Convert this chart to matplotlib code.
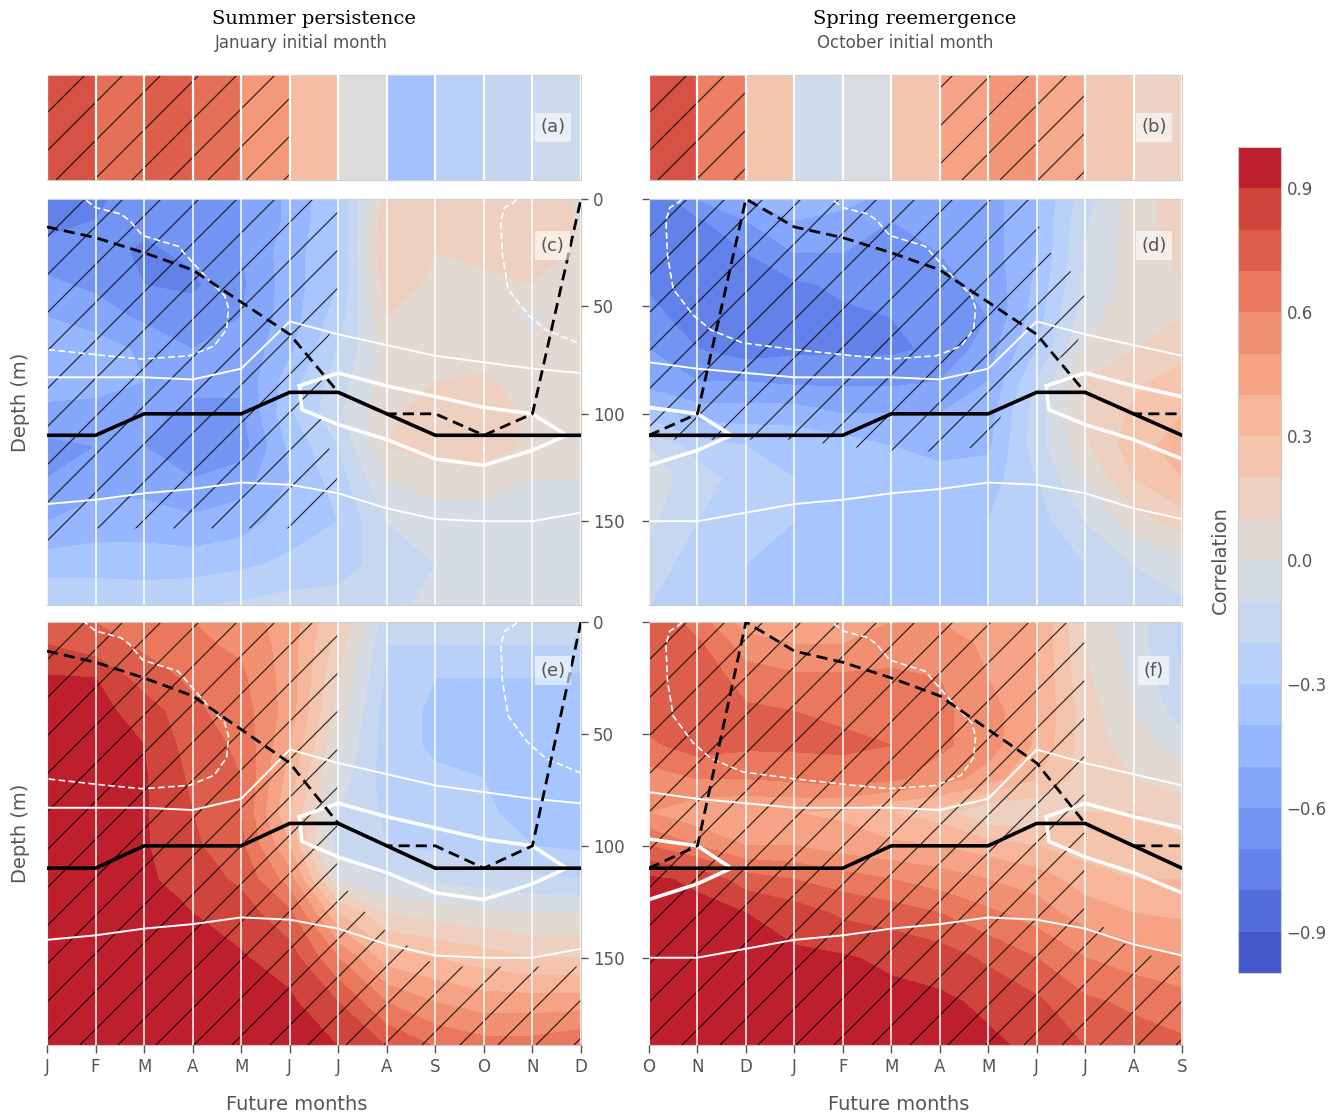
import numpy as np
import matplotlib
matplotlib.use('Agg')
import matplotlib.pyplot as plt
from matplotlib.collections import LineCollection
from matplotlib.transforms import IdentityTransform
from matplotlib.path import Path

plt.rcParams['font.family'] = ['DejaVu Sans']

# ---------------- data ----------------
depths = [0, 10, 25, 40, 55, 70, 85, 100, 115, 130, 150, 170, 190]
months_jan = list('JFMAMJJASOND')
months_oct = list('ONDJFMAMJJAS')

# top strips, 11 cells each
strip_a = [0.8, 0.68, 0.75, 0.68, 0.5, 0.3, 0.0, -0.38, -0.25, -0.17, -0.12]
strip_b = [0.8, 0.62, 0.25, -0.1, -0.03, 0.25, 0.45, 0.52, 0.42, 0.22, 0.13]
strip_a_sig = [1, 1, 1, 1, 1, 0, 0, 0, 0, 0, 0]
strip_b_sig = [1, 1, 0, 0, 0, 0, 1, 1, 1, 0, 0]

# correlation, one list per month (values over depths)
corr_c = [
    [-0.78, -0.75, -0.65, -0.58, -0.5, -0.42, -0.42, -0.55, -0.62, -0.6, -0.5, -0.35, -0.2],
    [-0.72, -0.7, -0.65, -0.62, -0.55, -0.45, -0.45, -0.55, -0.6, -0.55, -0.45, -0.35, -0.2],
    [-0.65, -0.68, -0.72, -0.7, -0.62, -0.52, -0.5, -0.58, -0.6, -0.55, -0.45, -0.35, -0.22],
    [-0.6, -0.62, -0.68, -0.72, -0.65, -0.6, -0.58, -0.62, -0.68, -0.6, -0.48, -0.35, -0.2],
    [-0.6, -0.6, -0.6, -0.62, -0.6, -0.58, -0.58, -0.62, -0.65, -0.55, -0.45, -0.32, -0.18],
    [-0.48, -0.48, -0.45, -0.45, -0.45, -0.42, -0.35, -0.32, -0.38, -0.4, -0.35, -0.28, -0.15],
    [-0.3, -0.3, -0.3, -0.3, -0.25, -0.2, -0.15, -0.12, -0.2, -0.25, -0.3, -0.25, -0.15],
    [0.15, 0.18, 0.2, 0.15, 0.1, 0.05, 0.05, 0.08, 0.1, 0.0, -0.1, -0.15, -0.12],
    [0.1, 0.1, 0.1, 0.08, 0.05, 0.05, 0.1, 0.15, 0.15, 0.05, -0.05, -0.1, -0.08],
    [0.12, 0.15, 0.12, 0.08, 0.05, 0.05, 0.12, 0.15, 0.15, 0.05, -0.05, -0.08, -0.08],
    [0.18, 0.2, 0.2, 0.1, -0.02, 0.02, 0.05, 0.08, 0.08, 0.0, -0.05, -0.08, -0.08],
    [0.08, 0.08, 0.05, 0.05, 0.05, 0.05, 0.05, 0.05, 0.05, 0.0, -0.05, -0.08, -0.08],
]
corr_d = [
    [-0.8, -0.8, -0.78, -0.72, -0.65, -0.6, -0.55, -0.35, -0.1, -0.05, -0.08, -0.15, -0.2],
    [-0.6, -0.72, -0.78, -0.8, -0.78, -0.7, -0.6, -0.45, -0.25, -0.15, -0.2, -0.25, -0.28],
    [-0.5, -0.6, -0.7, -0.75, -0.78, -0.75, -0.6, -0.45, -0.3, -0.25, -0.25, -0.3, -0.3],
    [-0.4, -0.5, -0.6, -0.72, -0.75, -0.72, -0.62, -0.45, -0.32, -0.3, -0.3, -0.3, -0.3],
    [-0.45, -0.55, -0.6, -0.68, -0.72, -0.72, -0.62, -0.5, -0.35, -0.35, -0.3, -0.3, -0.3],
    [-0.55, -0.6, -0.62, -0.65, -0.7, -0.72, -0.62, -0.5, -0.4, -0.35, -0.3, -0.3, -0.3],
    [-0.55, -0.58, -0.6, -0.62, -0.68, -0.68, -0.6, -0.5, -0.45, -0.35, -0.3, -0.3, -0.3],
    [-0.55, -0.55, -0.55, -0.58, -0.6, -0.55, -0.5, -0.45, -0.42, -0.35, -0.3, -0.3, -0.3],
    [-0.4, -0.4, -0.4, -0.38, -0.35, -0.3, -0.2, -0.15, -0.15, -0.2, -0.25, -0.25, -0.25],
    [-0.15, -0.12, -0.1, -0.08, -0.05, 0.02, 0.1, 0.1, 0.08, 0.0, -0.1, -0.2, -0.2],
    [0.05, 0.05, 0.05, 0.05, 0.08, 0.1, 0.18, 0.22, 0.25, 0.2, 0.05, -0.1, -0.15],
    [0.15, 0.15, 0.12, 0.1, 0.1, 0.15, 0.25, 0.3, 0.35, 0.3, 0.15, -0.05, -0.12],
]
corr_e = [
    [0.75, 0.8, 0.91, 0.93, 0.93, 0.93, 0.93, 0.93, 0.93, 0.93, 0.93, 0.93, 0.93],
    [0.7, 0.74, 0.9, 0.93, 0.93, 0.93, 0.93, 0.93, 0.93, 0.93, 0.93, 0.93, 0.93],
    [0.65, 0.68, 0.75, 0.86, 0.9, 0.91, 0.91, 0.91, 0.92, 0.93, 0.93, 0.93, 0.93],
    [0.6, 0.62, 0.68, 0.72, 0.75, 0.78, 0.8, 0.82, 0.85, 0.9, 0.93, 0.93, 0.93],
    [0.55, 0.58, 0.62, 0.65, 0.68, 0.7, 0.7, 0.72, 0.78, 0.85, 0.91, 0.93, 0.93],
    [0.45, 0.45, 0.45, 0.45, 0.4, 0.35, 0.3, 0.4, 0.55, 0.72, 0.85, 0.92, 0.93],
    [0.2, 0.15, 0.1, 0.05, 0.0, -0.05, -0.1, -0.15, 0.0, 0.3, 0.6, 0.8, 0.9],
    [-0.15, -0.2, -0.22, -0.25, -0.25, -0.25, -0.22, -0.2, -0.1, 0.1, 0.35, 0.6, 0.8],
    [-0.15, -0.2, -0.3, -0.32, -0.32, -0.28, -0.25, -0.22, -0.12, 0.05, 0.3, 0.5, 0.7],
    [-0.15, -0.2, -0.3, -0.35, -0.35, -0.3, -0.28, -0.25, -0.15, 0.02, 0.25, 0.45, 0.65],
    [-0.12, -0.2, -0.3, -0.3, -0.3, -0.32, -0.35, -0.3, -0.18, 0.0, 0.2, 0.45, 0.65],
    [-0.15, -0.2, -0.32, -0.35, -0.35, -0.35, -0.38, -0.32, -0.2, 0.0, 0.2, 0.45, 0.7],
]
corr_f = [
    [0.8, 0.8, 0.78, 0.75, 0.68, 0.55, 0.5, 0.7, 0.92, 0.93, 0.93, 0.93, 0.93],
    [0.65, 0.72, 0.78, 0.78, 0.75, 0.6, 0.42, 0.6, 0.88, 0.93, 0.93, 0.93, 0.93],
    [0.45, 0.55, 0.65, 0.72, 0.72, 0.6, 0.4, 0.5, 0.75, 0.9, 0.93, 0.93, 0.93],
    [0.4, 0.5, 0.62, 0.7, 0.72, 0.62, 0.4, 0.5, 0.7, 0.85, 0.92, 0.93, 0.93],
    [0.42, 0.5, 0.62, 0.68, 0.72, 0.65, 0.38, 0.45, 0.65, 0.78, 0.91, 0.93, 0.93],
    [0.5, 0.55, 0.62, 0.68, 0.7, 0.62, 0.3, 0.42, 0.6, 0.75, 0.88, 0.93, 0.93],
    [0.5, 0.55, 0.6, 0.62, 0.62, 0.55, 0.25, 0.4, 0.55, 0.7, 0.85, 0.92, 0.93],
    [0.45, 0.48, 0.5, 0.55, 0.55, 0.45, 0.1, 0.35, 0.5, 0.62, 0.78, 0.88, 0.92],
    [0.4, 0.4, 0.4, 0.4, 0.38, 0.3, 0.12, 0.3, 0.45, 0.55, 0.7, 0.82, 0.88],
    [0.08, 0.1, 0.12, 0.15, 0.15, 0.15, 0.2, 0.25, 0.35, 0.45, 0.6, 0.72, 0.8],
    [-0.05, -0.05, -0.02, 0.0, 0.05, 0.1, 0.2, 0.25, 0.3, 0.4, 0.55, 0.68, 0.75],
    [-0.22, -0.22, -0.2, -0.15, -0.05, 0.05, 0.15, 0.22, 0.3, 0.38, 0.5, 0.65, 0.72],
]

# significance (0-9, >=5 is hatched), one string per depth level
sig_c = ["999999500000", "999999500000", "999999500000", "999999500000",
         "999999500000", "999999300000", "999999300000", "999999300000",
         "999999400000", "999999500000", "966666400000", "500000000000",
         "000000000000"]
sig_d = ["999999995000", "999999995000", "999999997000", "999999999500",
         "999999999500", "999999999400", "999999993000", "999999970000",
         "444456650000", "000000000000", "000000000000", "000000000000",
         "000000000000"]
sig_e = ["999999500000"] * 9 + ["999999920000", "999999994444",
                                "999999999999", "999999999999"]
sig_f = ["999999999500"] * 10 + ["999999999964", "999999999999",
                                 "999999999999"]

# monthly climatology lines (Jan..Dec), depth in m
mld_solid = [110, 110, 100, 100, 100, 90, 90, 100, 110, 110, 110, 110]
mld_dashed = [13, 18, 25, 33, 48, 63, 90, 100, 100, 110, 100, 0]
iso_upper = [83, 83, 83, 84, 79, 57, 63, 68, 73, 76, 79, 81]
iso_lower = [142, 140, 137, 135, 132, 133, 137, 144, 149, 150, 150, 146]

# closed contours, x in calendar months (Jan = 0, next Jan = 12)
loop_month = [5.2, 6, 7, 8, 9, 10, 10.7, 10, 9, 8, 7, 6, 5.25, 5.2]
loop_depth = [87, 81, 87, 92, 97, 100, 110, 117, 124, 121, 112, 105, 98, 87]
dash_month = [9.83, 9.61, 9.43, 9.35, 9.38, 9.5, 9.91, 10.28, 10.94, 11.97,
              13.23, 13.97, 14.93, 15.44, 15.7, 15.74, 15.66, 15.3, 14.7,
              13.97, 13.7, 13.52, 13.0, 12.6]
dash_depth = [-3, 1.6, 4, 10, 26, 42, 54, 61, 67, 70, 73, 74.5, 73, 68.5,
              60.6, 51, 45, 37, 22, 17, 10, 7, 4, -3]

# ---------------- figure ----------------
W, H = 1334, 1118
fig = plt.figure(figsize=(W / 100, H / 100), dpi=100)
gray = '#555555'
levels = np.linspace(-1, 1, 21)


def rect(x0, y0, x1, y1):
    return [x0 / W, 1 - y1 / H, (x1 - x0) / W, (y1 - y0) / H]


def add_hatch(ax, path, step=38):
    bb = ax.get_window_extent()
    segs = []
    c = -bb.height
    while c < bb.width:
        segs.append([(bb.x0 + c, bb.y0), (bb.x0 + c + bb.height, bb.y0 + bb.height)])
        c += step
    lc = LineCollection(segs, colors='k', linewidths=0.8, alpha=0.85,
                        transform=IdentityTransform(), zorder=2)
    lc.set_clip_path(path, ax.transData)
    ax.add_collection(lc, autolim=False)


def style(ax):
    for s in ax.spines.values():
        s.set_color('#cccccc')
    ax.set_axisbelow(False)
    ax.set_xticks(range(12))
    ax.grid(axis='x', color='white', lw=1.1)
    ax.grid(axis='y', visible=False)
    ax.set_xlim(0, 11)


def panel_label(ax, txt, y):
    ax.text(0.947, y, txt, transform=ax.transAxes, ha='center', va='center',
            fontsize=13, color=gray, zorder=6,
            bbox=dict(boxstyle='square,pad=0.3', fc='white', ec='none', alpha=0.6))


def draw_strip(r, vals, sig, txt):
    ax = fig.add_axes(r)
    ax.pcolormesh(np.arange(12), [0, 1], np.array([vals]), cmap='coolwarm',
                  vmin=-1, vmax=1, shading='flat', zorder=1)
    style(ax)
    ax.set_ylim(0, 1)
    ax.set_yticks([])
    ax.tick_params(axis='x', length=0, labelbottom=False)
    ax.grid(axis='x', color='white', lw=1.6)
    rects = [Path([(i, 0), (i + 1, 0), (i + 1, 1), (i, 1), (i, 0)], closed=True)
             for i, s in enumerate(sig) if s]
    add_hatch(ax, Path.make_compound_path(*rects))
    panel_label(ax, txt, 0.5)
    return ax


def draw_panel(r, corr, sig, start, labels, bottom, left_col, txt):
    ax = fig.add_axes(r)
    X = np.arange(12)
    field = np.array(corr).T
    cs = ax.contourf(X, depths, field, levels=levels, cmap='coolwarm', zorder=1)
    sig_arr = np.array([[int(ch) for ch in row] for row in sig], dtype=float)
    hs = ax.contourf(X, depths, sig_arr, levels=[5, 10], colors='none')
    add_hatch(ax, hs.get_paths()[0])
    style(ax)
    ax.set_ylim(189, 0)

    cal = (X + start) % 12
    ax.plot(X, np.array(iso_upper)[cal], color='white', lw=1.4, zorder=3)
    ax.plot(X, np.array(iso_lower)[cal], color='white', lw=1.4, zorder=3)
    for k in (-12, 0, 12):
        ax.plot(np.array(loop_month) - start + k, loop_depth, color='white',
                lw=2.6, zorder=3)
        ax.plot(np.array(dash_month) - start + k, dash_depth, color='white',
                lw=1.2, ls=(0, (4, 2)), zorder=3)
    ax.plot(X, np.array(mld_solid)[cal], color='black', lw=2.6, zorder=4)
    ax.plot(X, np.array(mld_dashed)[cal], color='black', lw=2.0,
            ls=(0, (4, 2.2)), zorder=4)

    ax.set_yticks([0, 50, 100, 150])
    if left_col:
        ax.yaxis.tick_right()
        ax.tick_params(axis='y', colors=gray, labelcolor=gray, labelsize=12,
                       length=5, width=1, direction='out')
        ax.yaxis.set_label_position('left')
        ax.set_ylabel('Depth (m)', fontsize=14, color=gray, labelpad=12)
    else:
        ax.tick_params(axis='y', left=True, labelleft=False, colors=gray,
                       length=5, width=1, direction='out')
    if bottom:
        ax.set_xticklabels(labels)
        ax.tick_params(axis='x', colors=gray, labelcolor=gray, labelsize=12,
                       length=6, width=1, direction='out')
    else:
        ax.tick_params(axis='x', length=0, labelbottom=False)
    panel_label(ax, txt, 0.885)
    return cs


draw_strip(rect(47, 75, 581, 180), strip_a, strip_a_sig, '(a)')
draw_strip(rect(649, 75, 1182, 180), strip_b, strip_b_sig, '(b)')
cs = draw_panel(rect(47, 199, 581, 605), corr_c, sig_c, 0, months_jan, False, True, '(c)')
draw_panel(rect(649, 199, 1182, 605), corr_d, sig_d, 9, months_oct, False, False, '(d)')
draw_panel(rect(47, 622, 581, 1045), corr_e, sig_e, 0, months_jan, True, True, '(e)')
draw_panel(rect(649, 622, 1182, 1045), corr_f, sig_f, 9, months_oct, True, False, '(f)')

fig.text(314 / W, 1 - 19 / H, 'Summer persistence', family='DejaVu Serif',
         fontsize=14, ha='center', va='center')
fig.text(301 / W, 1 - 43 / H, 'January initial month', fontsize=12,
         color=gray, ha='center', va='center')
fig.text(915 / W, 1 - 19 / H, 'Spring reemergence', family='DejaVu Serif',
         fontsize=14, ha='center', va='center')
fig.text(905 / W, 1 - 43 / H, 'October initial month', fontsize=12,
         color=gray, ha='center', va='center')
fig.text(297 / W, 1 - 1104 / H, 'Future months', fontsize=14, color=gray,
         ha='center', va='center')
fig.text(899 / W, 1 - 1104 / H, 'Future months', fontsize=14, color=gray,
         ha='center', va='center')

cax = fig.add_axes(rect(1238, 147, 1281, 973))
cb = fig.colorbar(cs, cax=cax, ticks=[-0.9, -0.6, -0.3, 0.0, 0.3, 0.6, 0.9])
cb.outline.set_edgecolor('#cccccc')
cax.tick_params(length=0, labelsize=12, labelcolor=gray, pad=4)
cax.yaxis.set_label_position('left')
cb.set_label('Correlation', fontsize=14, color=gray, labelpad=6)

fig.savefig('out.png', dpi=100)
